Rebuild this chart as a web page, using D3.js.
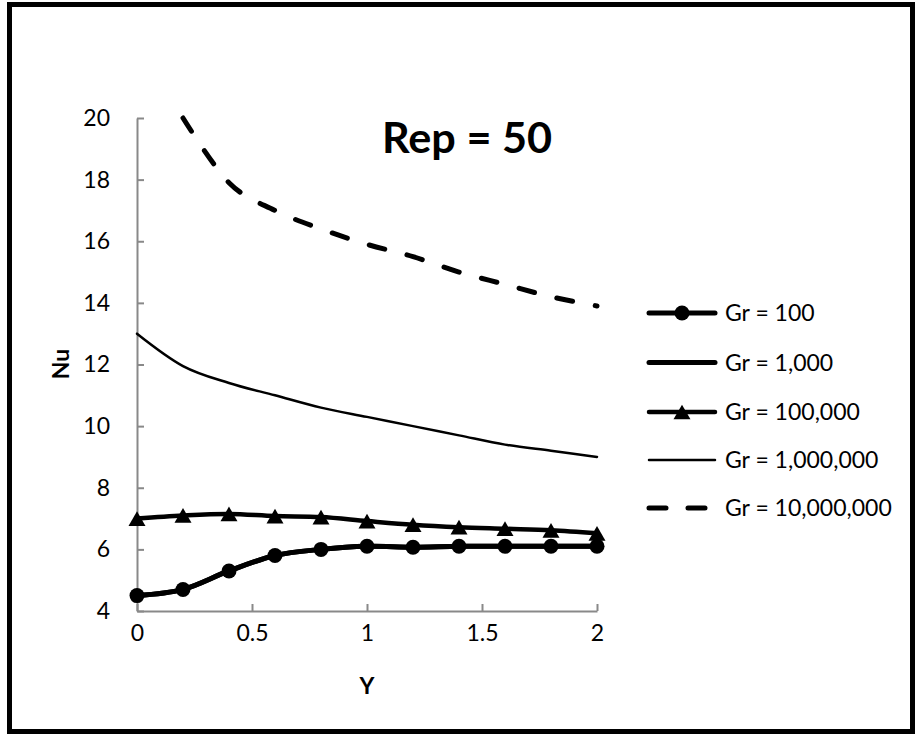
<!DOCTYPE html>
<html>
<head>
<meta charset="utf-8">
<script src="https://cdn.jsdelivr.net/npm/d3@7"></script>
<style>
  html, body { margin: 0; padding: 0; background: #fff; }
  svg { display: block; }
  text { font-family: Lato, "Open Sans", sans-serif; fill: #000; }
</style>
</head>
<body>
<svg id="chart" width="915" height="734"></svg>
<script>
// ---- data ----
const xValues = [0, 0.2, 0.4, 0.6, 0.8, 1.0, 1.2, 1.4, 1.6, 1.8, 2.0];
const gr100 = [4.5, 4.7, 5.3, 5.8, 6.0, 6.1, 6.07, 6.1, 6.1, 6.1, 6.1];
const gr1000 = [4.5, 4.7, 5.3, 5.8, 6.0, 6.1, 6.07, 6.1, 6.1, 6.1, 6.1];
const gr100000 = [7.0, 7.1, 7.15, 7.08, 7.05, 6.92, 6.8, 6.72, 6.67, 6.62, 6.52];
const gr1000000 = [13.0, 11.95, 11.4, 11.0, 10.6, 10.3, 10.0, 9.7, 9.4, 9.2, 9.0];
const gr10000000 = [null, 20.0, 17.9, 17.0, 16.4, 15.9, 15.5, 15.0, 14.6, 14.2, 13.9];
const seriesNames = ["Gr = 100", "Gr = 1,000", "Gr = 100,000", "Gr = 1,000,000", "Gr = 10,000,000"];
const xTicks = [0, 0.5, 1, 1.5, 2];
const yTicks = [4, 6, 8, 10, 12, 14, 16, 18, 20];
const titleText = "Rep = 50";
const xLabel = "Y";
const yLabel = "Nu";

// ---- setup ----
const svg = d3.select("#chart");
const plot = { left: 137, right: 597, top: 118, bottom: 611 };
const x = d3.scaleLinear().domain([0, 2]).range([plot.left, plot.right]);
const y = d3.scaleLinear().domain([4, 20]).range([plot.bottom, plot.top]);
const axisColor = "#898989";

// outer frame
svg.append("rect")
  .attr("x", 9.5).attr("y", 4.5)
  .attr("width", 903).attr("height", 727)
  .attr("fill", "none").attr("stroke", "#000").attr("stroke-width", 5);

// axes
const yAxis = d3.axisLeft(y).tickValues(yTicks).tickSizeInner(-7).tickSizeOuter(0).tickPadding(27)
  .tickFormat(d3.format("d"));
const gy = svg.append("g").attr("transform", `translate(${plot.left},0)`).call(yAxis);
const xAxis = d3.axisBottom(x).tickValues(xTicks).tickSizeInner(-7).tickSizeOuter(0).tickPadding(25)
  .tickFormat(d => d3.format("")(d));
const gx = svg.append("g").attr("transform", `translate(0,${plot.bottom})`).call(xAxis);
[gx, gy].forEach(g => {
  g.select(".domain").attr("stroke", axisColor).attr("stroke-width", 2);
  g.selectAll(".tick line").attr("stroke", axisColor).attr("stroke-width", 2);
  g.selectAll(".tick text").style("font-family", "Lato, sans-serif").style("font-size", "23px").attr("fill", "#000");
});
gx.selectAll(".tick text").attr("dy", "0.2em");

// axis titles
svg.append("text").attr("x", x(1)).attr("y", 694)
  .attr("text-anchor", "middle").style("font-size", "23px").style("font-weight", "bold").text(xLabel);
svg.append("text").attr("transform", `translate(69,364) rotate(-90)`)
  .attr("text-anchor", "middle").style("font-size", "23px").style("font-weight", "bold").text(yLabel);

// title
svg.append("text").attr("x", 467).attr("y", 153)
  .attr("text-anchor", "middle").style("font-size", "42px").style("font-weight", "bold")
  .attr("textLength", 170).attr("lengthAdjust", "spacingAndGlyphs").text(titleText);

// ---- series ----
const mk = arr => xValues.map((xv, i) => ({ x: xv, y: arr[i] })).filter(d => d.y != null);
const series = [
  { name: seriesNames[0], data: mk(gr100), width: 5, dash: null, marker: "circle" },
  { name: seriesNames[1], data: mk(gr1000), width: 5, dash: null, marker: null },
  { name: seriesNames[2], data: mk(gr100000), width: 4.5, dash: null, marker: "triangle" },
  { name: seriesNames[3], data: mk(gr1000000), width: 2.5, dash: null, marker: null },
  { name: seriesNames[4], data: mk(gr10000000), width: 5, dash: "16,23", marker: null }
];

const line = d3.line().x(d => x(d.x)).y(d => y(d.y)).curve(d3.curveCatmullRom.alpha(0));
const triSize = 125;
const triH = Math.sqrt(triSize / (3 * Math.sqrt(3))) * 3;

function drawMarker(g, type, cx, cy) {
  if (type === "circle") {
    g.append("circle").attr("cx", cx).attr("cy", cy).attr("r", 7.5).attr("fill", "#000");
  } else if (type === "triangle") {
    g.append("path").attr("d", d3.symbol().type(d3.symbolTriangle).size(triSize)())
      .attr("transform", `translate(${cx},${cy + triH / 6})`).attr("fill", "#000");
  }
}

const gLines = svg.append("g");
series.forEach(s => {
  gLines.append("path").datum(s.data).attr("d", line)
    .attr("fill", "none").attr("stroke", "#000").attr("stroke-width", s.width)
    .attr("stroke-linecap", "round").attr("stroke-linejoin", "round")
    .attr("stroke-dasharray", s.dash);
});
const gMarks = svg.append("g");
series.forEach(s => {
  if (s.marker) s.data.forEach(d => drawMarker(gMarks, s.marker, x(d.x), y(d.y)));
});

// ---- legend ----
const legY = [313, 362.5, 412, 460, 508];
const leg = svg.append("g");
series.forEach((s, i) => {
  const ly = legY[i];
  leg.append("line").attr("x1", 649).attr("x2", 715).attr("y1", ly).attr("y2", ly)
    .attr("stroke", "#000").attr("stroke-width", s.width)
    .attr("stroke-linecap", "round").attr("stroke-dasharray", s.dash ? "17,22" : null);
  if (s.marker) drawMarker(leg, s.marker, 682, ly);
  leg.append("text").attr("x", 725).attr("y", ly).attr("dy", "0.36em")
    .style("font-size", "23px").text(s.name);
});
</script>
</body>
</html>
